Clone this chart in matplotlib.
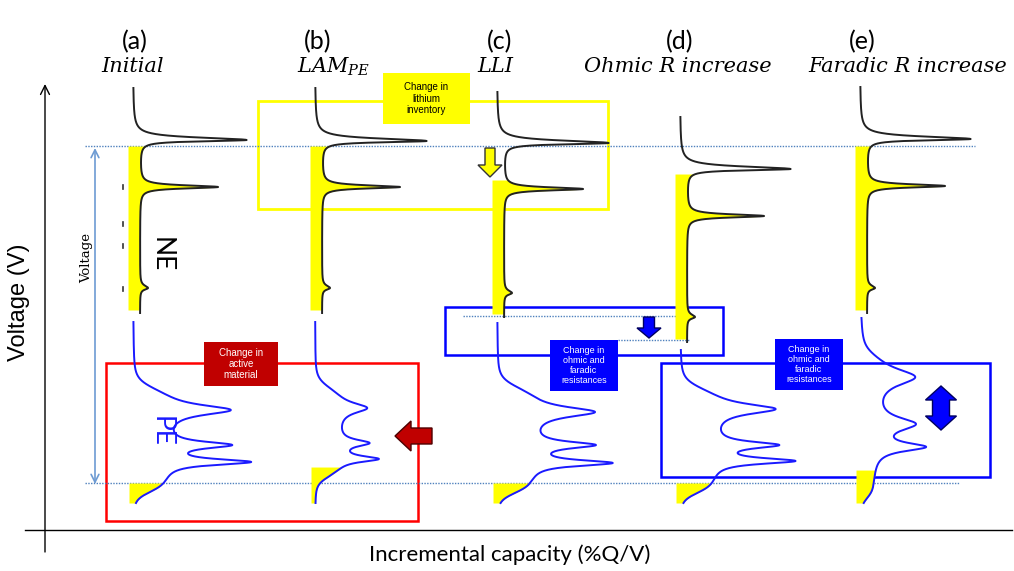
import numpy as np
import matplotlib.pyplot as plt
from matplotlib.patches import Rectangle, FancyArrow, Polygon

plt.rcParams['mathtext.fontset'] = 'dejavuserif'

# panel headings
panel_tags = ['(a)', '(b)', '(c)', '(d)', '(e)']
panel_names = ['Initial', r'$LAM_{PE}$', 'LLI', 'Ohmic R increase', 'Faradic R increase']
tag_x = [135, 318, 500, 680, 862]
name_x = [133, 333, 495, 678, 908]
panel_base = [133, 315, 497, 680, 860]   # zero of dQ/dV for each panel

# negative electrode (NE) peaks, voltage axis in px from top
ne_start = [88, 88, 92, 117, 87]
ne_peak1_v = [140, 141, 143, 169, 139]
ne_peak1_h = [110, 108, 108, 107, 107]
ne_peak2_v = [187, 187, 189, 216, 186]
ne_peak2_h = [78, 78, 79, 77, 78]
ne_bump_v = [288, 288, 293, 317, 288]
ne_fill_top = [146, 146, 180, 174, 146]
ne_end = [313, 313, 317, 342, 313]
ne_tick_v = [187, 224, 246, 289]

# positive electrode (PE) peaks
pe_start = [322, 322, 323, 350, 318]
pe_peak_v = [[410, 445, 462], [408, 443, 459], [412, 445, 463], [409, 445, 461], [377, 424, 447]]
pe_peak_h = [[67, 64, 84], [30, 30, 40], [65, 62, 80], [64, 63, 80], [42, 40, 49]]
pe_peak_w = [[6, 4, 3.5], [6, 4, 3.5], [6, 4, 3.5], [6, 4, 3.5], [10, 8, 5]]
pe_plateau = [30, 22, 32, 31, 12]
pe_on = [388, 387, 387, 388, 354]
pe_off = [492, 477, 493, 493, 498]
pe_fill_top = [483, 467, 483, 483, 470]
pe_end = 503


def lorentz(v, pos, h, w_up, w_dn):
    w = np.where(v < pos, w_up, w_dn)
    return h / (1 + ((v - pos) / w) ** 2)


def sig(z):
    return 1 / (1 + np.exp(-z))


fig = plt.figure(figsize=(10.14, 5.71), dpi=100)
ax = fig.add_axes([0, 0, 1, 1])
ax.set_xlim(0, 1014)
ax.set_ylim(571, 0)
ax.axis('off')

# main axes
ax.annotate('', xy=(45, 84), xytext=(45, 552),
            arrowprops=dict(arrowstyle='->', lw=1, color='black', mutation_scale=16, shrinkA=0, shrinkB=0))
ax.plot([25, 1012], [530, 530], color='black', lw=1)
ax.text(19, 302, 'Voltage (V)', rotation=90, ha='center', va='center', fontsize=17, family='Liberation Sans')
ax.text(510, 555, 'Incremental capacity (%Q/V)', ha='center', va='center', fontsize=16, family='Lato')

# voltage window
ax.annotate('', xy=(95, 148), xytext=(95, 484),
            arrowprops=dict(arrowstyle='<->', lw=1.2, color='#6d9bd3', mutation_scale=14, shrinkA=0, shrinkB=0))
ax.text(87, 258, 'Voltage', rotation=90, ha='center', va='center', fontsize=9.5, family='DejaVu Serif')
ax.plot([85, 975], [146, 146], ls=(0, (1, 1)), color='#4f81bd', lw=1)
ax.plot([85, 960], [483, 483], ls=(0, (1, 1)), color='#4f81bd', lw=1)
ax.plot([463, 682], [316, 316], ls=(0, (1, 1)), color='#4f81bd', lw=1)
ax.plot([618, 690], [340, 340], ls=(0, (1, 1)), color='#4f81bd', lw=1)

# highlight boxes
ax.add_patch(Rectangle((258, 101), 350, 108, fill=False, ec='#ffff00', lw=2, zorder=1))
ax.add_patch(Rectangle((106, 363), 312, 158, fill=False, ec='#ff0000', lw=1.8, zorder=1))
ax.add_patch(Rectangle((445, 307), 278, 48, fill=False, ec='#0000ff', lw=1.8, zorder=1))
ax.add_patch(Rectangle((661, 363), 329, 114, fill=False, ec='#0000ff', lw=1.8, zorder=1))

# curves
for i in range(5):
    b = panel_base[i]
    v = np.linspace(ne_start[i], ne_end[i], 3000)
    x = (b + 7 * sig((v - ne_peak1_v[i]) / 1.5)
         + lorentz(v, ne_peak1_v[i], ne_peak1_h[i], 3, 1.5)
         + lorentz(v, ne_peak2_v[i], ne_peak2_h[i], 2, 1.7)
         + lorentz(v, ne_bump_v[i], 8, 3, 2))
    m = (v >= ne_fill_top[i]) & (v <= ne_end[i] - 3)
    ax.fill_betweenx(v[m], b - 5, x[m], color='#ffff00', lw=0, zorder=2)
    ax.plot(x, v, color='#222222', lw=1.4, zorder=3)

    v = np.linspace(pe_start[i], pe_end, 3000)
    x = b + pe_plateau[i] * sig((v - pe_on[i]) / 5) * sig((pe_off[i] - v) / 4)
    for pv, ph, pw in zip(pe_peak_v[i], pe_peak_h[i], pe_peak_w[i]):
        x = x + lorentz(v, pv, ph, pw, pw)
    m = v >= pe_fill_top[i]
    ax.fill_betweenx(v[m], b - 4, x[m], color='#ffff00', lw=0, zorder=2)
    ax.plot(x, v, color='#1a1aff', lw=1.4, zorder=3)

for t in ne_tick_v:
    ax.plot([123, 123], [t - 2, t + 2], color='#333333', lw=1.2)

# headings
for tag, name, tx, nx in zip(panel_tags, panel_names, tag_x, name_x):
    ax.text(tx, 42, tag, ha='center', va='center', fontsize=18, family='Lato')
    ax.text(nx, 67, name, ha='center', va='center', fontsize=15, family='DejaVu Serif', style='italic')

ax.text(161, 255, 'NE', rotation=-90, ha='center', va='center', fontsize=19, family='Lato')
ax.text(161, 431, 'PE', rotation=-90, ha='center', va='center', fontsize=19, family='Lato', color='#1a1aff')

# labels
ax.add_patch(Rectangle((383, 73), 87, 51, fc='#ffff00', ec='none', zorder=4))
ax.text(426.5, 98.5, 'Change in\nlithium\ninventory', ha='center', va='center', fontsize=7,
        family='Liberation Sans', linespacing=1.15, zorder=5)
ax.add_patch(Rectangle((204, 342), 74, 44, fc='#c00000', ec='none', zorder=4))
ax.text(241, 364, 'Change in\nactive\nmaterial', ha='center', va='center', fontsize=7,
        family='Liberation Sans', color='white', linespacing=1.15, zorder=5)
for lx, ly in [(550, 340), (775, 339)]:
    ax.add_patch(Rectangle((lx, ly), 68, 51, fc='#0000ff', ec='none', zorder=4))
    ax.text(lx + 34, ly + 25.5, 'Change in\nohmic and\nfaradic\nresistances', ha='center', va='center',
            fontsize=6.5, family='Liberation Sans', color='white', linespacing=1.15, zorder=5)

# arrows
ax.add_patch(FancyArrow(432, 436, -37, 0, width=16, head_width=30, head_length=16,
                        length_includes_head=True, fc='#c00000', ec='#4d0000', lw=1, zorder=5))
ax.add_patch(FancyArrow(490, 148, 0, 29, width=10, head_width=24, head_length=12,
                        length_includes_head=True, fc='#ffff00', ec='#333333', lw=1, zorder=5))
ax.add_patch(FancyArrow(649, 317, 0, 21, width=11, head_width=24, head_length=10,
                        length_includes_head=True, fc='#0000ff', ec='#000060', lw=1, zorder=5))
xc, y0, y1, sw, hw, hl = 941, 386, 430, 17, 31, 14
ax.add_patch(Polygon([(xc, y0), (xc + hw / 2, y0 + hl), (xc + sw / 2, y0 + hl), (xc + sw / 2, y1 - hl),
                      (xc + hw / 2, y1 - hl), (xc, y1), (xc - hw / 2, y1 - hl), (xc - sw / 2, y1 - hl),
                      (xc - sw / 2, y0 + hl), (xc - hw / 2, y0 + hl)],
                     closed=True, fc='#0000ff', ec='#000060', lw=1, zorder=5))

fig.savefig('out.png', dpi=100)
